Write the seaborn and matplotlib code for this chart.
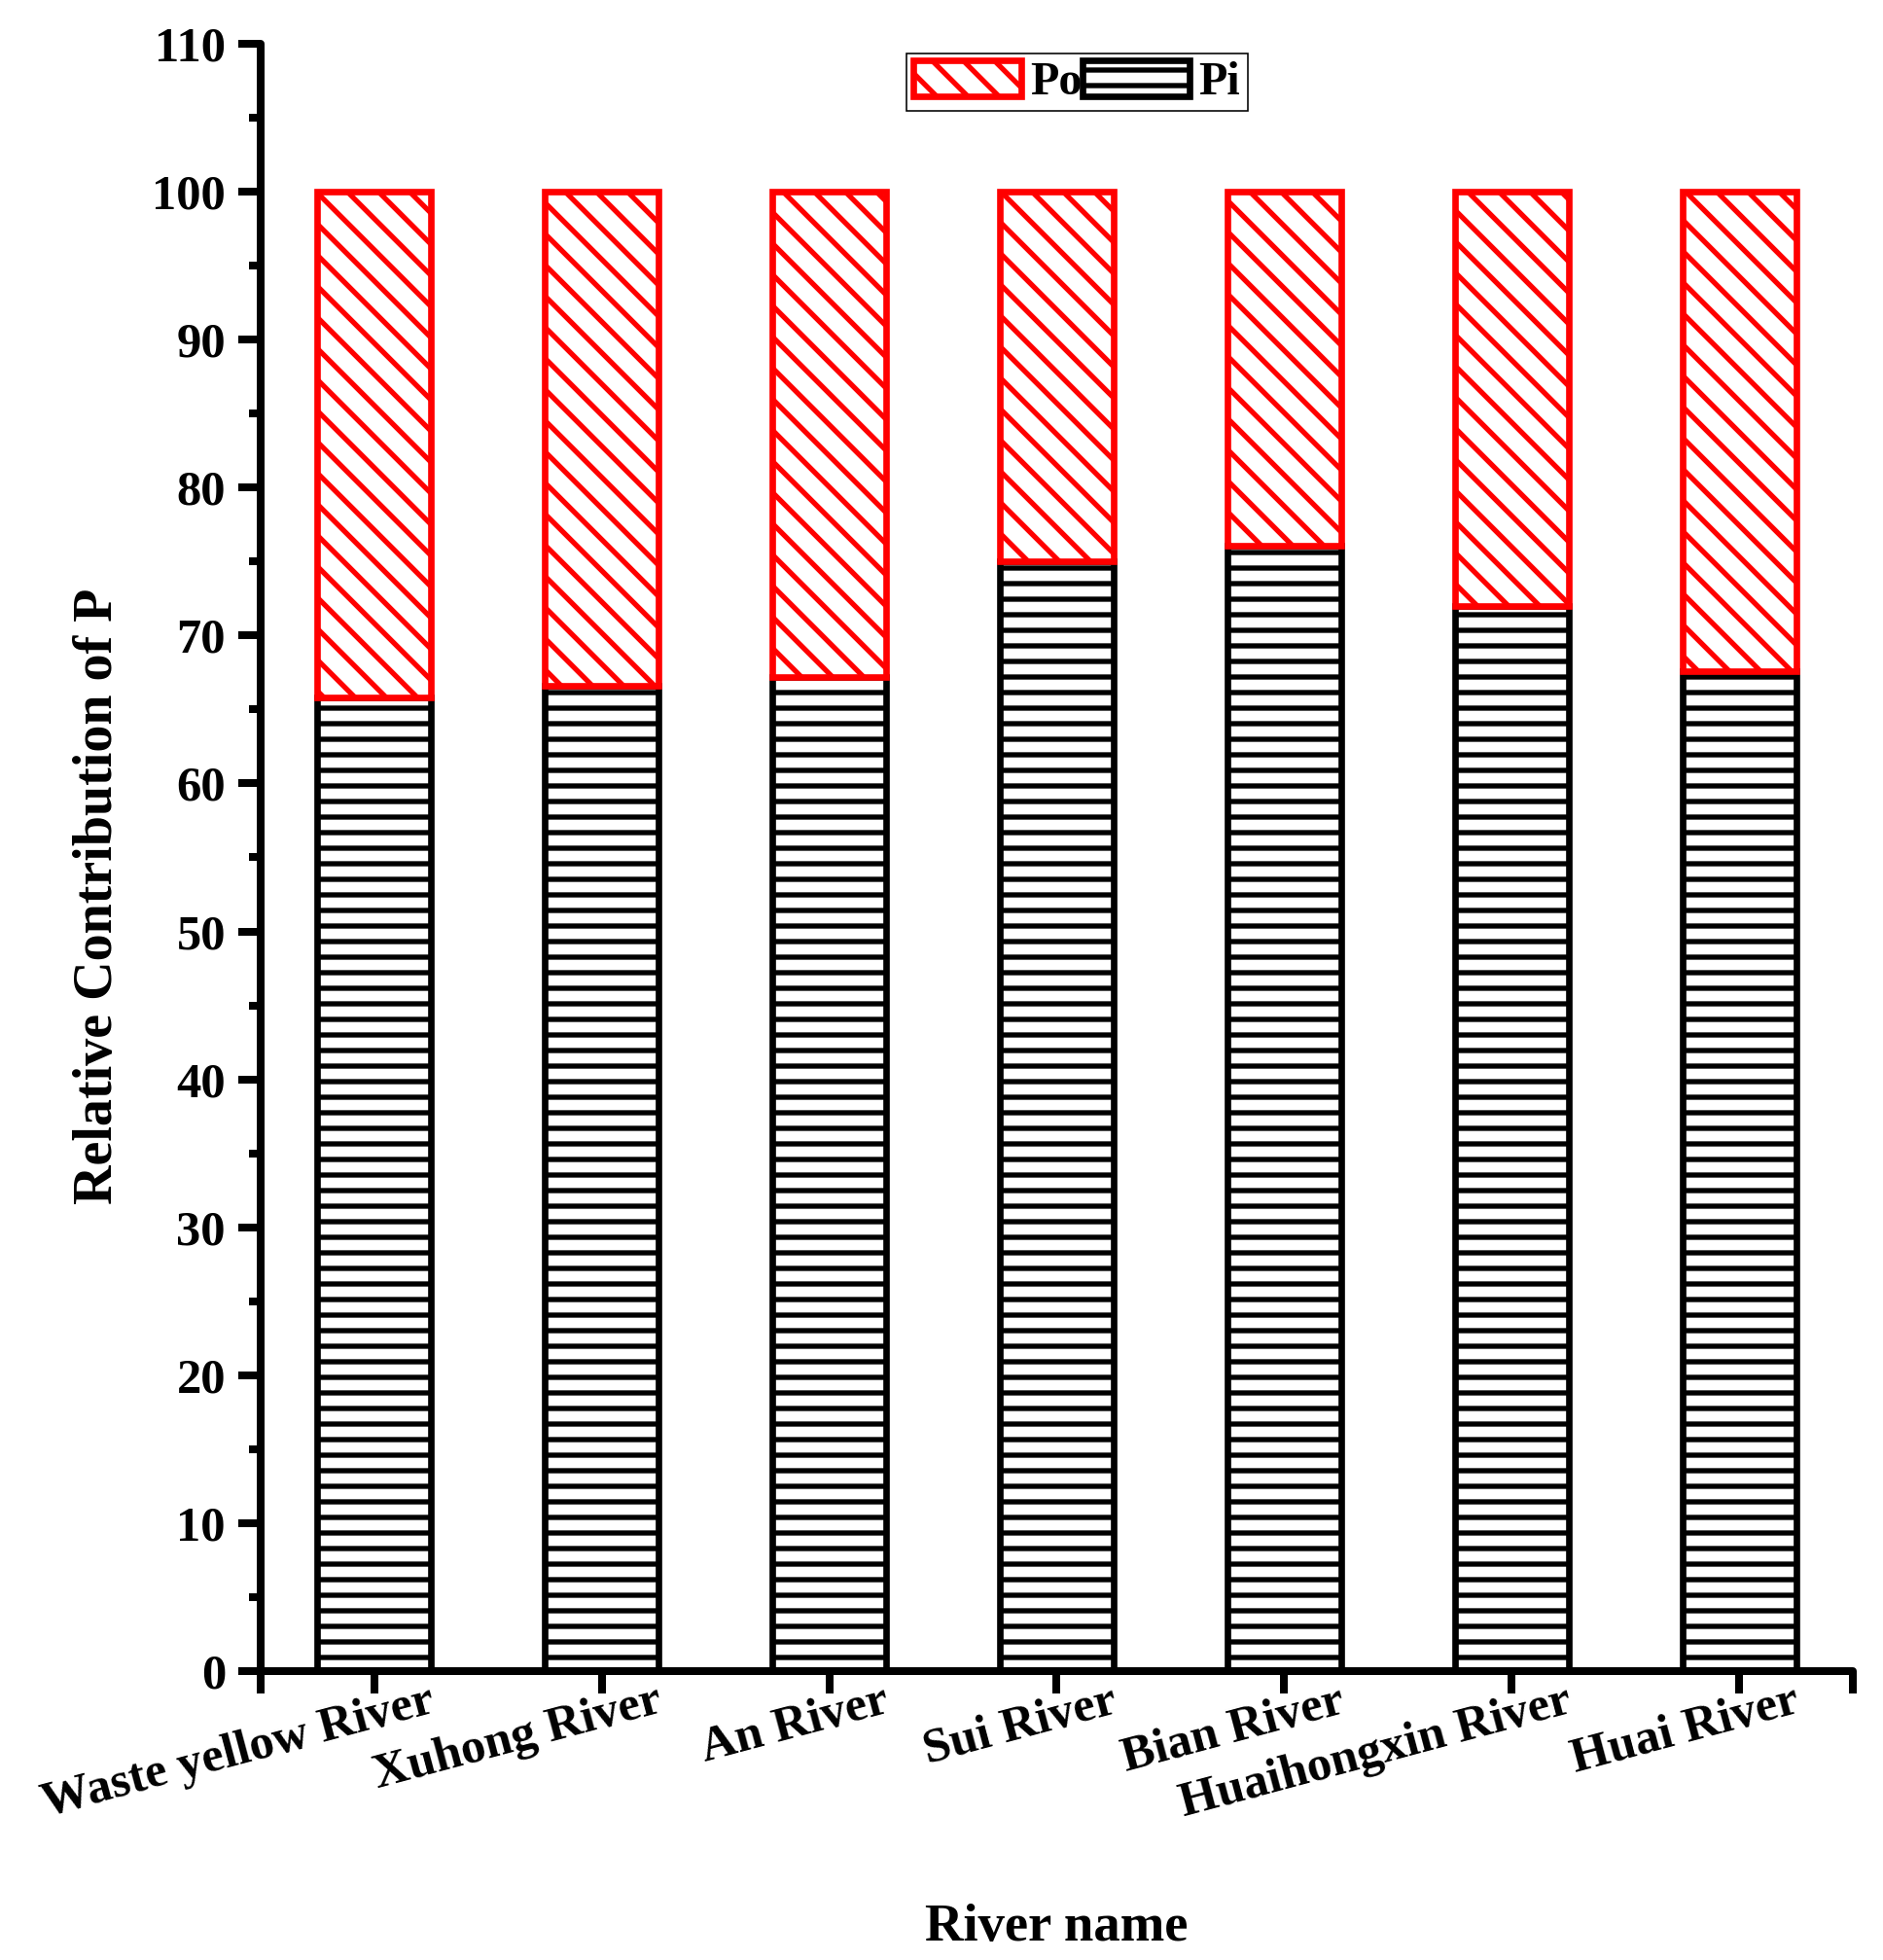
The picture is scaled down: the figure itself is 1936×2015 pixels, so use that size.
import numpy as np
import pandas as pd
import matplotlib
matplotlib.use("Agg")
import matplotlib.pyplot as plt
import matplotlib.transforms as mtransforms
from matplotlib.ticker import MultipleLocator
import seaborn as sns

# Data
rivers = ["Waste yellow River", "Xuhong River", "An River", "Sui River",
          "Bian River", "Huaihongxin River", "Huai River"]
pi_share = [65.8, 66.6, 67.2, 75.0, 76.1, 72.0, 67.6]
po_share = [100 - v for v in pi_share]
y_ticks = list(range(0, 111, 10))

df = pd.DataFrame({"River": rivers, "Pi": pi_share, "Po": po_share})

sns.set_style("ticks")
plt.rcParams["font.family"] = ["Liberation Serif", "DejaVu Serif"]
plt.rcParams["font.weight"] = "bold"
plt.rcParams["hatch.linewidth"] = 4.0
plt.rcParams["text.color"] = "black"
plt.rcParams["axes.labelcolor"] = "black"
plt.rcParams["axes.edgecolor"] = "black"

DPI = 96
fig = plt.figure(figsize=(1936 / DPI, 2015 / DPI), dpi=DPI)
ax = fig.add_axes([0.1384, 0.1474, 0.8456, 0.8303])

# Pi at the bottom, Po stacked on top
sns.barplot(data=df, x="River", y="Pi", order=rivers, ax=ax, width=0.5,
            color="white", edgecolor="black", linewidth=5, hatch="-",
            label="Pi", errorbar=None)
sns.barplot(data=df, x="River", y="Po", order=rivers, ax=ax, width=0.5,
            color="white", edgecolor="red", linewidth=5, hatch="\\",
            bottom=df["Pi"].values, label="Po", errorbar=None)

ax.set_xlim(-0.5, len(rivers) - 0.5)
ax.set_ylim(0, 110)
ax.set_yticks(y_ticks)
ax.yaxis.set_minor_locator(MultipleLocator(5))

# category ticks plus the two end ticks of the axis
xpos = [-0.5] + list(range(len(rivers))) + [len(rivers) - 0.5]
ax.set_xticks(xpos)
ax.set_xticklabels([""] + rivers + [""], rotation=15, ha="right",
                   va="top", rotation_mode="anchor")

sns.despine(ax=ax)
for side in ["left", "bottom"]:
    ax.spines[side].set_linewidth(6)
    ax.spines[side].set_capstyle("round")

ax.tick_params(axis="both", which="major", direction="out", length=17,
               width=6, labelsize=38, color="black", labelcolor="black")
ax.tick_params(axis="y", which="major", pad=10)
ax.tick_params(axis="x", which="major", pad=4)
ax.tick_params(axis="y", which="minor", direction="out", length=9, width=6,
               color="black")
for lab in ax.get_xticklabels() + ax.get_yticklabels():
    lab.set_fontweight("bold")

# shift the rotated river names to the right of their ticks
offset = mtransforms.ScaledTranslation(55 / DPI, 20 / DPI, fig.dpi_scale_trans)
for lab in ax.get_xticklabels():
    lab.set_transform(lab.get_transform() + offset)

ax.set_xlabel("River name", fontsize=41, fontweight="bold")
ax.set_ylabel("Relative Contribution of P", fontsize=42, fontweight="bold")
ax.xaxis.set_label_coords(0.5, -0.143)
ax.yaxis.set_label_coords(-0.086, 0.476)

handles, labels = ax.get_legend_handles_labels()
order = [labels.index("Po"), labels.index("Pi")]
leg = ax.legend([handles[i] for i in order], [labels[i] for i in order],
                ncol=2, loc="upper left", bbox_to_anchor=(0.4056, 0.994),
                borderaxespad=0, borderpad=0.15, handlelength=2.3,
                handleheight=0.8, handletextpad=0.2, columnspacing=0.0,
                fancybox=False, framealpha=1, edgecolor="black",
                prop={"size": 36, "weight": "bold"})
leg.get_frame().set_linewidth(1.2)

fig.savefig("out.png", dpi=DPI)
